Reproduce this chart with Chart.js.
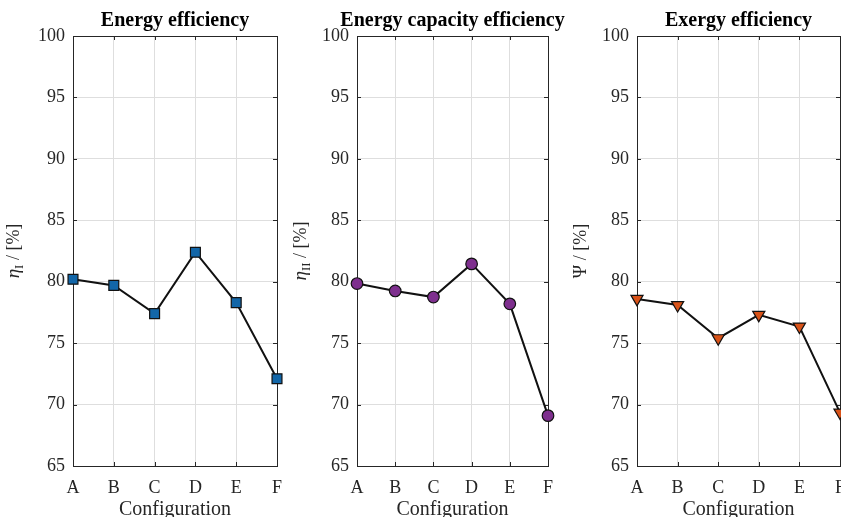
<!DOCTYPE html>
<html lang="en">
<head>
  <meta charset="UTF-8">
  <title>Efficiency by configuration</title>
  <script src="https://cdn.jsdelivr.net/npm/chart.js"></script>
  <style>
    html, body { margin: 0; padding: 0; background: #fff; overflow: hidden; }
    .panel { position: absolute; top: 0; }
  </style>
</head>
<body>
  <div class="panel" style="left:0px;width:296px;height:517px"><canvas id="c1"></canvas></div>
  <div class="panel" style="left:290px;width:280px;height:517px"><canvas id="c2"></canvas></div>
  <div class="panel" style="left:570px;width:300px;height:517px"><canvas id="c3"></canvas></div>

  <script>
    // Data
    const configs = ['A', 'B', 'C', 'D', 'E', 'F'];
    const energyEff = [80.2, 79.7, 77.4, 82.4, 78.3, 72.1];
    const capacityEff = [79.85, 79.25, 78.75, 81.45, 78.2, 69.1];
    const exergyEff = [78.6, 78.1, 75.4, 77.3, 76.35, 69.35];
    const yMin = 65, yMax = 100, yStep = 5;

    const SERIF = '"Liberation Serif", "DejaVu Serif", serif';
    const AXIS = '#262626';

    // frame, inward ticks, titles and axis labels (MATLAB look)
    const decor = {
      id: 'decor',
      beforeDatasetsDraw(chart) {
        const { ctx, chartArea: a, scales } = chart;
        ctx.save();
        ctx.strokeStyle = AXIS;
        ctx.lineWidth = 1;
        ctx.strokeRect(a.left + 0.5, a.top + 0.5, a.right - a.left, a.bottom - a.top);
        ctx.beginPath();
        scales.y.ticks.forEach(t => {
          const y = Math.round(scales.y.getPixelForValue(t.value)) + 0.5;
          ctx.moveTo(a.left, y); ctx.lineTo(a.left + 4, y);
          ctx.moveTo(a.right, y); ctx.lineTo(a.right - 4, y);
        });
        configs.forEach((c, i) => {
          const x = Math.round(scales.x.getPixelForValue(i)) + 0.5;
          ctx.moveTo(x, a.bottom); ctx.lineTo(x, a.bottom - 4);
          ctx.moveTo(x, a.top); ctx.lineTo(x, a.top + 4);
        });
        ctx.stroke();
        ctx.restore();
      },
      afterDraw(chart, args, opts) {
        const { ctx, chartArea: a } = chart;
        const cx = (a.left + a.right) / 2;
        ctx.save();
        ctx.fillStyle = '#000';
        ctx.textAlign = 'center';
        ctx.textBaseline = 'alphabetic';
        ctx.font = 'bold 20px ' + SERIF;
        ctx.fillText(opts.title, cx, 26);

        ctx.fillStyle = AXIS;
        ctx.font = '20px ' + SERIF;
        ctx.fillText('Configuration', cx, 515);

        // rotated y label with subscript
        const parts = opts.ylabel;
        let total = 0;
        parts.forEach(p => { ctx.font = p.font; total += ctx.measureText(p.t).width; });
        ctx.translate(a.left - opts.yOff, (a.top + a.bottom) / 2);
        ctx.rotate(-Math.PI / 2);
        ctx.textAlign = 'left';
        let x = -total / 2;
        parts.forEach(p => {
          ctx.font = p.font;
          ctx.fillText(p.t, x, p.dy || 0);
          x += ctx.measureText(p.t).width;
        });
        ctx.restore();
      }
    };

    function makeChart(id, values, color, style, radius, rotation, title, ylabel, yWidth, rightPad, yOff) {
      return new Chart(document.getElementById(id), {
        type: 'line',
        data: {
          labels: configs,
          datasets: [{
            data: values,
            borderColor: '#111',
            borderWidth: 2,
            pointStyle: style,
            pointRadius: radius,
            pointRotation: rotation,
            pointBackgroundColor: color,
            pointBorderColor: '#111',
            pointBorderWidth: 1.2,
            tension: 0,
            clip: false
          }]
        },
        options: {
          responsive: true,
          maintainAspectRatio: false,
          animation: false,
          events: [],
          layout: { padding: { top: 36, right: rightPad, left: 0, bottom: 0 } },
          plugins: {
            legend: { display: false },
            tooltip: { enabled: false },
            decor: { title: title, ylabel: ylabel, yOff: yOff }
          },
          scales: {
            x: {
              offset: false,
              grid: { color: '#dedede', drawTicks: false },
              border: { display: false },
              ticks: { color: AXIS, font: { family: SERIF, size: 18 }, padding: 11, maxRotation: 0 },
              afterFit: s => { s.height = 51; }
            },
            y: {
              min: yMin,
              max: yMax,
              grid: { color: '#dedede', drawTicks: false },
              border: { display: false },
              ticks: { stepSize: yStep, color: AXIS, font: { family: SERIF, size: 18 }, padding: 8 },
              afterFit: s => { s.width = yWidth; }
            }
          }
        },
        plugins: [decor]
      });
    }

    const big = '18px ' + SERIF;
    const eta = 'italic 19px ' + SERIF;
    const sub = '13px ' + SERIF;

    makeChart('c1', energyEff, '#1266a8', 'rect', 7, 0, 'Energy efficiency',
      [{ t: 'η', font: eta }, { t: 'I', font: sub, dy: 4 }, { t: ' / [%]', font: big }], 73, 19, 54);
    makeChart('c2', capacityEff, '#7E2F8E', 'circle', 5.8, 0, 'Energy capacity efficiency',
      [{ t: 'η', font: eta }, { t: 'II', font: sub, dy: 4 }, { t: ' / [%]', font: big }], 67, 22, 51);
    makeChart('c3', exergyEff, '#D95319', 'triangle', 7, 180, 'Exergy efficiency',
      [{ t: 'Ψ / [%]', font: big }], 67, 30, 51);
  </script>
</body>
</html>
